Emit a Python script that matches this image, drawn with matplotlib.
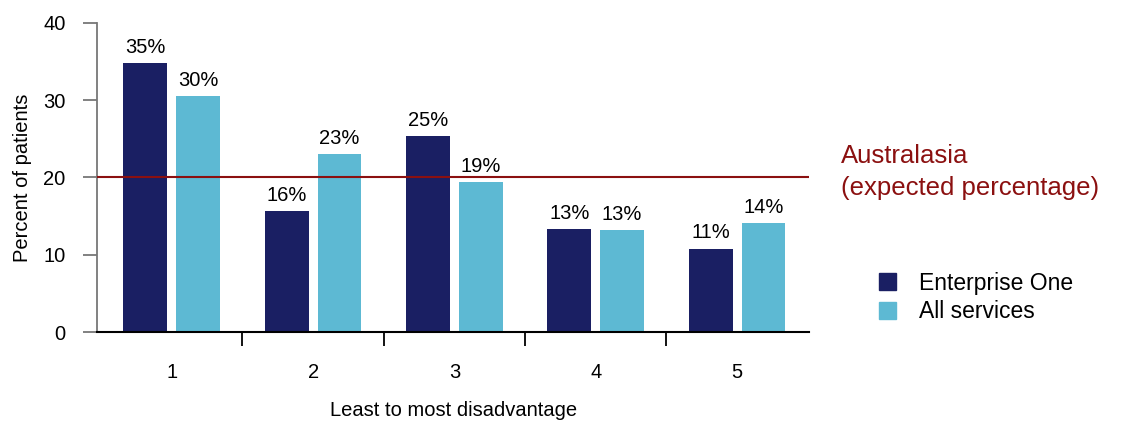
import numpy as np
import matplotlib.pyplot as plt
from matplotlib.patches import Patch

plt.rcParams['font.family'] = ['Liberation Sans', 'DejaVu Sans']

# quintiles of disadvantage
groups = ['1', '2', '3', '4', '5']
enterprise_one = [34.8, 15.6, 25.3, 13.3, 10.8]
all_services = [30.5, 23.0, 19.4, 13.2, 14.1]
expected = 20

navy = '#1a1f63'
sky = '#5db9d3'
red = '#8b1010'

x = np.arange(1, len(groups) + 1)
w = 0.31
off = 0.187

fig = plt.figure(figsize=(11.37, 4.23), dpi=100)
ax = fig.add_axes([0.0856, 0.215, 0.626, 0.731])

b1 = ax.bar(x - off, enterprise_one, w, color=navy)
b2 = ax.bar(x + off, all_services, w, color=sky)

for bars, vals in ((b1, enterprise_one), (b2, all_services)):
    for b, v in zip(bars, vals):
        ax.text(b.get_x() + b.get_width() / 2, v + 0.8, f'{v:.0f}%',
                ha='center', va='bottom', fontsize=14.5)

ax.axhline(expected, color=red, lw=1.5, zorder=3)
fig.text(0.740, 0.594, 'Australasia\n(expected percentage)', color=red,
         fontsize=18.5, ha='left', va='center', linespacing=1.4)

ax.set_xlim(0.473, 5.51)
ax.set_ylim(0, 40)
ax.set_yticks([0, 10, 20, 30, 40])
ax.set_xticks(x)
ax.set_xticklabels(groups)
ax.set_xticks([1.5, 2.5, 3.5, 4.5], minor=True)
ax.tick_params(axis='x', which='major', length=0, pad=22, labelsize=14.5)
ax.tick_params(axis='x', which='minor', length=10, width=1.3, direction='out', color='black')
ax.tick_params(axis='y', length=10, width=1.3, color='#777777', labelsize=14.5, pad=13)

for s in ('top', 'right'):
    ax.spines[s].set_visible(False)
ax.spines['left'].set_color('#777777')
ax.spines['left'].set_linewidth(1.3)
ax.spines['bottom'].set_color('black')
ax.spines['bottom'].set_linewidth(1.5)

ax.set_ylabel('Percent of patients', fontsize=14.5, labelpad=8)
ax.set_xlabel('Least to most disadvantage', fontsize=14.5, labelpad=14)

handles = [Patch(color=navy, label='Enterprise One'), Patch(color=sky, label='All services')]
fig.legend(handles=handles, loc='center left', bbox_to_anchor=(0.755, 0.297),
           frameon=False, fontsize=16.5, handlelength=0.75, handleheight=0.75,
           handletextpad=1.0, labelspacing=0.25)

fig.savefig('out.png', dpi=100)
